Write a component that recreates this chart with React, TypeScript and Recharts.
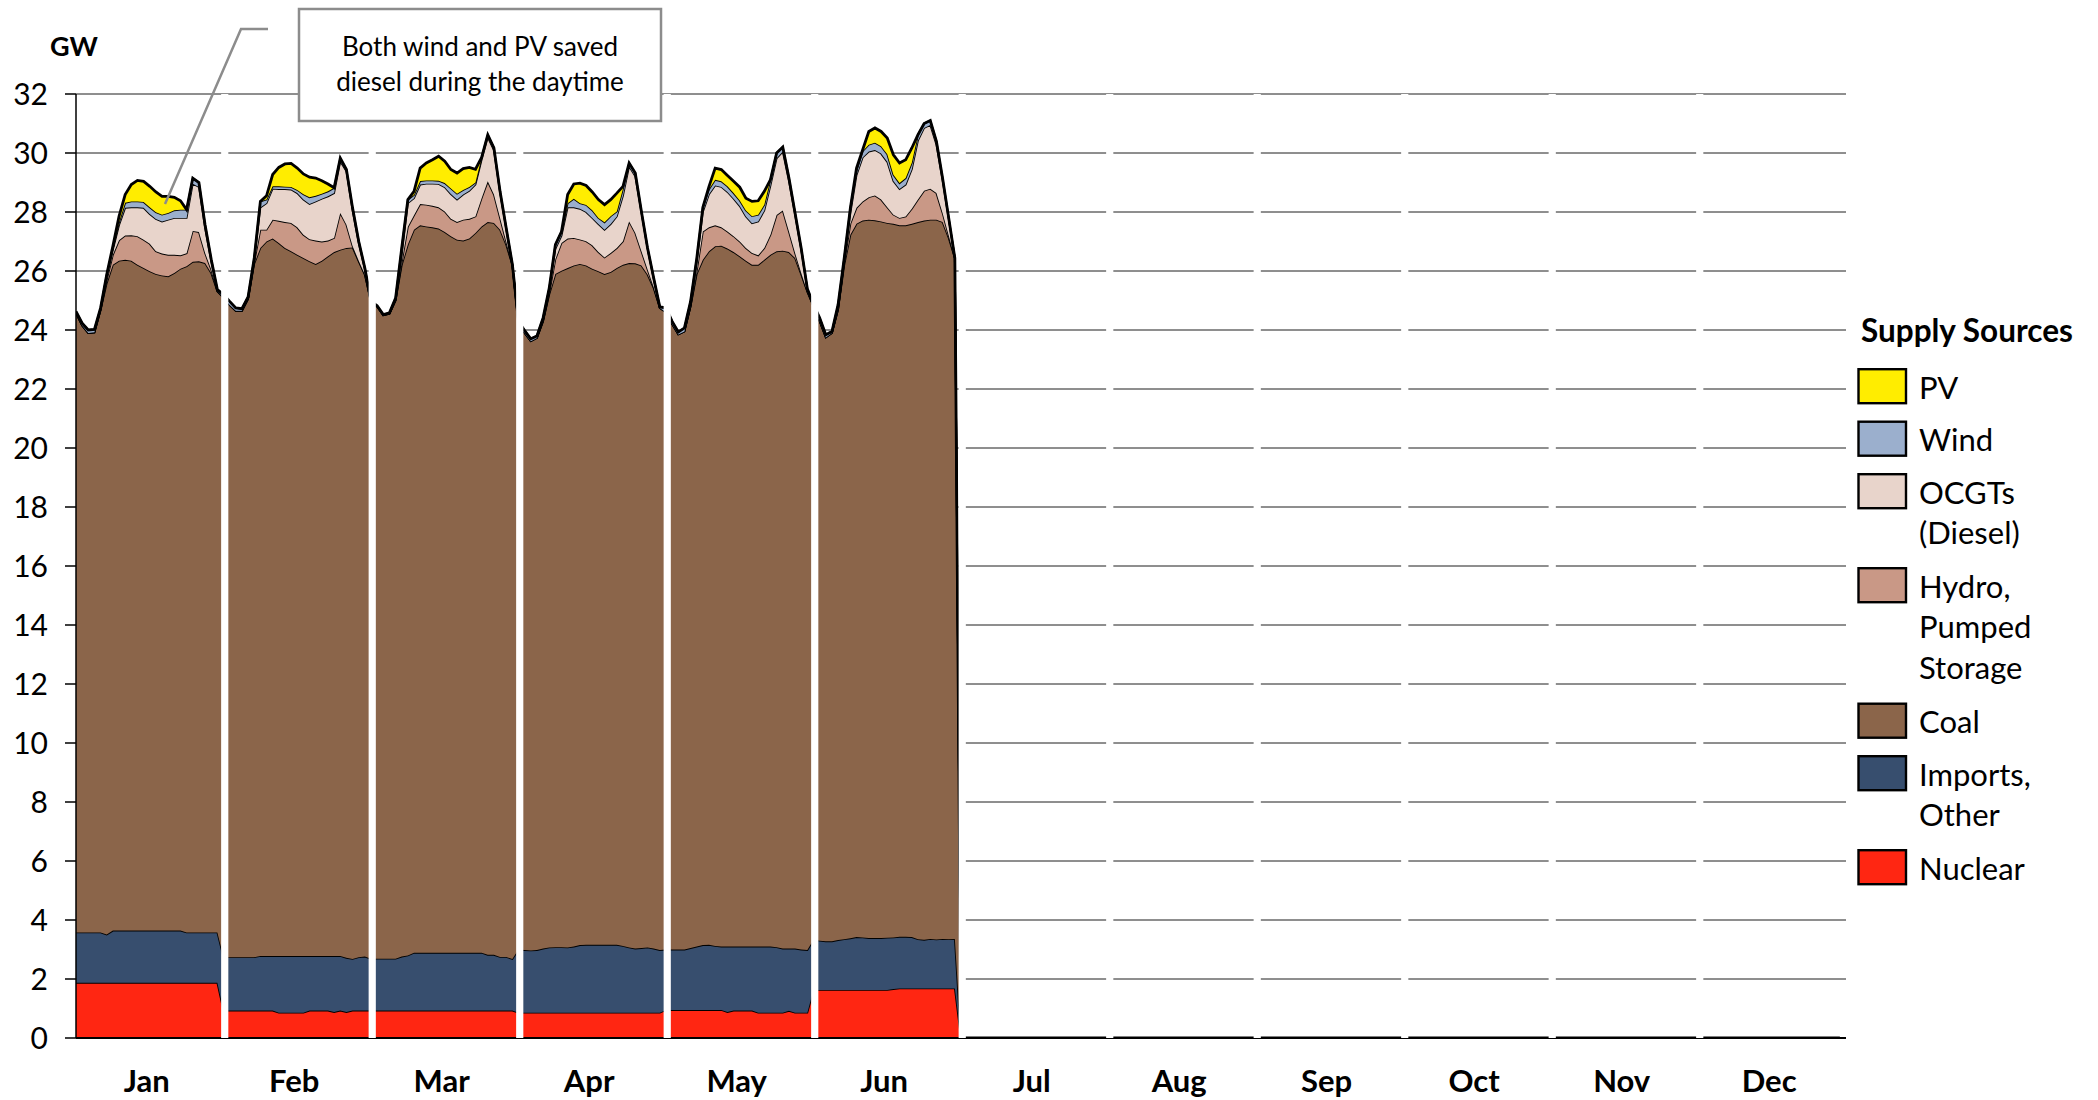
import React from 'react';
import { AreaChart, Area, XAxis, YAxis, CartesianGrid, ReferenceLine } from 'recharts';

const MONTHS = ['Jan', 'Feb', 'Mar', 'Apr', 'May', 'Jun', 'Jul', 'Aug', 'Sep', 'Oct', 'Nov', 'Dec'];
const Y_TICKS = [0, 2, 4, 6, 8, 10, 12, 14, 16, 18, 20, 22, 24, 26, 28, 30, 32];

// average day, GW for hours 0..23; one row per month, Jan..Jun (later months not in yet -> 0)
const NUCLEAR = [
  [1.87, 1.87, 1.87, 1.87, 1.87, 1.87, 1.87, 1.87, 1.87, 1.87, 1.87, 1.87, 1.87, 1.87, 1.87, 1.87, 1.87, 1.87, 1.87, 1.87, 1.87, 1.87, 1.87, 1.87],
  [0.93, 0.93, 0.93, 0.93, 0.93, 0.93, 0.93, 0.93, 0.93, 0.86, 0.86, 0.86, 0.86, 0.86, 0.93, 0.93, 0.93, 0.93, 0.88, 0.93, 0.88, 0.93, 0.93, 0.93],
  [0.93, 0.93, 0.93, 0.93, 0.93, 0.93, 0.93, 0.93, 0.93, 0.93, 0.93, 0.93, 0.93, 0.93, 0.93, 0.93, 0.93, 0.93, 0.93, 0.93, 0.93, 0.93, 0.93, 0.93],
  [0.86, 0.86, 0.86, 0.86, 0.86, 0.86, 0.86, 0.86, 0.86, 0.86, 0.86, 0.86, 0.86, 0.86, 0.86, 0.86, 0.86, 0.86, 0.86, 0.86, 0.86, 0.86, 0.86, 0.86],
  [0.95, 0.95, 0.95, 0.95, 0.95, 0.95, 0.95, 0.95, 0.95, 0.95, 0.88, 0.93, 0.93, 0.93, 0.93, 0.86, 0.86, 0.86, 0.86, 0.86, 0.92, 0.86, 0.86, 0.86],
  [1.63, 1.63, 1.63, 1.63, 1.63, 1.63, 1.63, 1.63, 1.63, 1.63, 1.63, 1.63, 1.63, 1.66, 1.68, 1.68, 1.68, 1.68, 1.68, 1.68, 1.68, 1.68, 1.68, 1.68],
];

const IMPORTS = [
  [1.71, 1.71, 1.71, 1.71, 1.71, 1.64, 1.77, 1.77, 1.77, 1.77, 1.77, 1.77, 1.77, 1.77, 1.77, 1.77, 1.77, 1.77, 1.71, 1.71, 1.71, 1.71, 1.71, 1.71],
  [1.81, 1.81, 1.81, 1.81, 1.81, 1.81, 1.85, 1.85, 1.85, 1.92, 1.92, 1.92, 1.92, 1.92, 1.85, 1.85, 1.85, 1.85, 1.9, 1.85, 1.84, 1.75, 1.81, 1.83],
  [1.76, 1.76, 1.76, 1.76, 1.76, 1.83, 1.87, 1.96, 1.96, 1.96, 1.96, 1.96, 1.96, 1.96, 1.96, 1.96, 1.96, 1.96, 1.96, 1.89, 1.89, 1.82, 1.82, 1.75],
  [2.14, 2.12, 2.11, 2.12, 2.17, 2.21, 2.22, 2.22, 2.21, 2.24, 2.29, 2.3, 2.3, 2.3, 2.3, 2.3, 2.3, 2.26, 2.21, 2.17, 2.19, 2.21, 2.17, 2.12],
  [2.05, 2.05, 2.05, 2.05, 2.1, 2.15, 2.2, 2.21, 2.17, 2.15, 2.22, 2.17, 2.17, 2.17, 2.17, 2.24, 2.24, 2.24, 2.22, 2.17, 2.11, 2.17, 2.14, 2.12],
  [1.7, 1.67, 1.65, 1.65, 1.69, 1.72, 1.75, 1.79, 1.78, 1.76, 1.76, 1.76, 1.77, 1.75, 1.75, 1.75, 1.74, 1.67, 1.65, 1.68, 1.66, 1.68, 1.67, 1.68],
];

const COAL = [
  [21.0, 20.57, 20.32, 20.34, 21.1, 22.08, 22.57, 22.71, 22.74, 22.71, 22.57, 22.46, 22.35, 22.26, 22.21, 22.18, 22.29, 22.44, 22.58, 22.73, 22.75, 22.69, 22.35, 21.73],
  [22.36, 22.11, 21.91, 21.91, 22.31, 23.51, 24.0, 24.22, 24.32, 24.17, 24.0, 23.89, 23.77, 23.66, 23.55, 23.46, 23.57, 23.72, 23.86, 23.94, 24.06, 24.12, 23.59, 23.12],
  [22.26, 22.11, 21.81, 21.86, 22.31, 23.44, 24.1, 24.51, 24.66, 24.62, 24.59, 24.55, 24.43, 24.29, 24.17, 24.14, 24.21, 24.4, 24.62, 24.84, 24.81, 24.65, 24.14, 23.52],
  [21.2, 20.92, 20.65, 20.75, 21.27, 22.13, 22.82, 22.93, 23.03, 23.09, 23.09, 23.03, 22.92, 22.83, 22.74, 22.81, 22.94, 23.09, 23.2, 23.23, 23.14, 22.81, 22.39, 21.77],
  [21.6, 21.2, 20.85, 20.95, 21.75, 22.8, 23.23, 23.51, 23.72, 23.76, 23.66, 23.54, 23.4, 23.25, 23.11, 23.11, 23.28, 23.45, 23.59, 23.66, 23.61, 23.41, 22.88, 22.32],
  [21.47, 21.0, 20.47, 20.62, 21.38, 22.85, 23.85, 24.18, 24.3, 24.35, 24.33, 24.29, 24.23, 24.19, 24.12, 24.12, 24.18, 24.31, 24.38, 24.38, 24.4, 24.3, 23.77, 23.08],
];

const HYDRO = [
  [0, 0, 0, 0, 0, 0.11, 0.34, 0.69, 0.82, 0.86, 0.97, 0.96, 0.93, 0.77, 0.74, 0.73, 0.62, 0.45, 0.44, 1.05, 0.99, 0.34, 0.12, 0],
  [0, 0, 0, 0, 0, 0.05, 0.62, 0.4, 0.64, 0.75, 0.88, 0.96, 0.93, 0.79, 0.75, 0.79, 0.65, 0.53, 0.48, 1.25, 0.79, 0.05, 0.02, 0],
  [0, 0, 0, 0, 0, 0.1, 0.6, 0.49, 0.72, 0.74, 0.73, 0.72, 0.7, 0.59, 0.6, 0.71, 0.67, 0.56, 0.96, 1.38, 0.96, 0.4, 0.11, 0],
  [0, 0, 0, 0, 0, 0.05, 0.5, 0.94, 1.0, 0.93, 0.83, 0.82, 0.79, 0.65, 0.56, 0.64, 0.68, 0.8, 1.41, 1.03, 0.48, 0.17, 0.03, 0],
  [0, 0, 0, 0, 0, 0.1, 0.96, 0.81, 0.71, 0.62, 0.58, 0.54, 0.5, 0.43, 0.4, 0.32, 0.4, 0.68, 1.23, 1.36, 0.7, 0.17, 0.05, 0],
  [0, 0, 0, 0, 0, 0.1, 0.37, 0.54, 0.65, 0.76, 0.84, 0.74, 0.53, 0.31, 0.25, 0.3, 0.51, 0.76, 1.01, 1.05, 0.9, 0.31, 0.08, 0],
];

const OCGT = [
  [0, 0, 0, 0, 0.02, 0.13, 0.17, 0.51, 0.94, 0.95, 0.98, 1.08, 1.01, 1.09, 1.09, 1.19, 1.25, 1.27, 1.2, 1.6, 1.53, 0.84, 0.28, 0.02],
  [0, 0, 0, 0, 0.02, 0.08, 0.75, 0.9, 1.05, 1.08, 1.12, 1.13, 1.16, 1.19, 1.19, 1.33, 1.45, 1.5, 1.52, 1.75, 1.81, 1.2, 0.6, 0.17],
  [0, 0, 0, 0, 0.02, 0.25, 0.8, 0.58, 0.66, 0.71, 0.75, 0.79, 0.82, 0.84, 0.76, 0.85, 0.95, 1.08, 1.3, 1.49, 1.51, 0.85, 0.42, 0],
  [0, 0, 0, 0, 0.02, 0.13, 0.35, 0.25, 1.06, 1.04, 1.04, 0.99, 0.93, 0.95, 0.94, 0.98, 1.07, 1.54, 1.87, 1.92, 1.31, 0.7, 0.28, 0],
  [0, 0, 0, 0, 0.02, 0.3, 0.66, 1.12, 1.35, 1.37, 1.34, 1.27, 1.2, 1.07, 1.01, 1.15, 1.27, 1.67, 1.92, 2.0, 1.71, 1.29, 0.79, 0.07],
  [0, 0, 0, 0, 0, 0.08, 0.35, 1.11, 1.49, 1.55, 1.54, 1.56, 1.54, 1.14, 0.98, 1.08, 1.34, 2.0, 2.13, 2.16, 1.64, 1.1, 0.56, 0],
];

const WIND = [
  [0.05, 0.08, 0.1, 0.1, 0.05, 0.05, 0.06, 0.1, 0.17, 0.2, 0.2, 0.2, 0.23, 0.23, 0.23, 0.23, 0.26, 0.28, 0.28, 0.19, 0.15, 0.12, 0.07, 0.04],
  [0.1, 0.12, 0.1, 0.07, 0.05, 0.06, 0.21, 0.12, 0.08, 0.09, 0.08, 0.09, 0.11, 0.18, 0.23, 0.19, 0.17, 0.17, 0.18, 0.11, 0.06, 0.09, 0.06, 0.05],
  [0.02, 0.02, 0.02, 0.03, 0.06, 0.23, 0.12, 0.11, 0.12, 0.11, 0.11, 0.11, 0.14, 0.19, 0.2, 0.16, 0.13, 0.07, 0.08, 0.09, 0.07, 0.05, 0.04, 0.03],
  [0.09, 0.08, 0.08, 0.07, 0.09, 0.04, 0.14, 0.14, 0.14, 0.29, 0.19, 0.24, 0.26, 0.21, 0.25, 0.27, 0.17, 0.24, 0.11, 0.11, 0.04, 0.03, 0.03, 0.03],
  [0.15, 0.09, 0.08, 0.12, 0.15, 0.12, 0.16, 0.17, 0.19, 0.19, 0.19, 0.19, 0.19, 0.2, 0.24, 0.23, 0.2, 0.2, 0.18, 0.15, 0.11, 0.07, 0.05, 0.03],
  [0.06, 0.11, 0.09, 0.05, 0.16, 0.06, 0.19, 0.15, 0.21, 0.23, 0.25, 0.25, 0.26, 0.21, 0.2, 0.22, 0.22, 0.2, 0.15, 0.15, 0.12, 0.08, 0.04, 0],
];

const PV = [
  [0, 0, 0, 0, 0, 0, 0.07, 0.2, 0.28, 0.57, 0.71, 0.7, 0.71, 0.69, 0.62, 0.56, 0.44, 0.3, 0, 0, 0, 0, 0, 0],
  [0, 0, 0, 0, 0, 0, 0, 0.13, 0.4, 0.64, 0.77, 0.8, 0.74, 0.69, 0.68, 0.6, 0.44, 0.25, 0, 0, 0, 0, 0, 0],
  [0, 0, 0, 0, 0, 0, 0, 0.12, 0.44, 0.59, 0.7, 0.83, 0.74, 0.64, 0.7, 0.72, 0.66, 0.45, 0, 0, 0, 0, 0, 0],
  [0, 0, 0, 0, 0, 0, 0, 0, 0.29, 0.5, 0.68, 0.66, 0.62, 0.62, 0.6, 0.56, 0.62, 0.08, 0, 0, 0, 0, 0, 0],
  [0, 0, 0, 0, 0, 0, 0, 0.1, 0.4, 0.4, 0.37, 0.4, 0.45, 0.42, 0.5, 0.47, 0.45, 0, 0, 0, 0, 0, 0, 0],
  [0, 0, 0, 0, 0, 0, 0, 0.09, 0.05, 0.45, 0.5, 0.5, 0.55, 0.68, 0.68, 0.62, 0.5, 0, 0, 0, 0, 0, 0, 0],
];

// bottom of the stack first
const SERIES = [
  { key: 'nuclear', label: ['Nuclear'], color: '#FF2612', values: NUCLEAR },
  { key: 'imports', label: ['Imports,', 'Other'], color: '#374E6E', values: IMPORTS },
  { key: 'coal', label: ['Coal'], color: '#8B654A', values: COAL },
  { key: 'hydro', label: ['Hydro,', 'Pumped', 'Storage'], color: '#C99886', values: HYDRO },
  { key: 'ocgt', label: ['OCGTs', '(Diesel)'], color: '#E8D4CB', values: OCGT },
  { key: 'wind', label: ['Wind'], color: '#9BAFCD', values: WIND },
  { key: 'pv', label: ['PV'], color: '#FFED00', values: PV },
];

const HOURS = 24;
const FONT = 'Lato, "Open Sans", sans-serif';

const data = MONTHS.flatMap((_, m) =>
  Array.from({ length: HOURS }, (_, h) => {
    const row: Record<string, number> = { x: m * HOURS + h };
    SERIES.forEach((s) => {
      row[s.key] = s.values[m] ? s.values[m][h] : 0;
    });
    return row;
  })
);

const monthTicks = MONTHS.map((_, m) => m * HOURS + 11.5);
const monthGaps = MONTHS.slice(1).map((_, i) => (i + 1) * HOURS + 0.2);

function MonthTick(props: any) {
  const { x, y, payload } = props;
  const m = Math.floor(payload.value / HOURS);
  return (
    <text x={x} y={y + 54} textAnchor="middle" fontFamily={FONT} fontWeight={700} fontSize={31} fill="#000">
      {MONTHS[m]}
    </text>
  );
}

function Legend() {
  let top = 368;
  const items = [...SERIES].reverse().map((s) => {
    const y = top;
    top += 52.5 + (s.label.length - 1) * 41.5;
    return (
      <g key={s.key}>
        <rect x={1858.5} y={y + 1.2} width={47.5} height={34} fill={s.color} stroke="#000" strokeWidth={2.4} />
        {s.label.map((line, i) => (
          <text key={i} x={1919} y={y + 30.5 + i * 40.5} fontFamily={FONT} fontSize={31} fill="#000">
            {line}
          </text>
        ))}
      </g>
    );
  });
  return (
    <g>
      <text x={1861} y={341.5} fontFamily={FONT} fontWeight={700} fontSize={31.5} fill="#000">
        Supply Sources
      </text>
      {items}
    </g>
  );
}

export default function App() {
  return (
    <div style={{ position: 'absolute', left: 0, top: 0, width: 2098, height: 1100, background: '#fff' }}>
      <AreaChart width={2098} height={1100} data={data} margin={{ top: 94, right: 252, bottom: 32, left: 0 }}>
        <CartesianGrid vertical={false} stroke="#1e1e1e" strokeWidth={1} />
        <XAxis
          dataKey="x"
          type="number"
          domain={[0, MONTHS.length * HOURS]}
          ticks={monthTicks}
          interval={0}
          tick={<MonthTick />}
          axisLine={{ stroke: '#000', strokeWidth: 2.2 }}
          tickLine={false}
          tickSize={0}
          tickMargin={0}
          height={30}
          allowDataOverflow
        />
        <YAxis
          type="number"
          domain={[0, 32]}
          ticks={Y_TICKS}
          interval={0}
          width={76}
          tickSize={11}
          tickMargin={17}
          axisLine={{ stroke: '#000', strokeWidth: 1.5 }}
          tickLine={{ stroke: '#000', strokeWidth: 1.5 }}
          tick={{ fill: '#000', fontSize: 30, fontFamily: FONT }}
          allowDataOverflow
        />
        {SERIES.map((s) => (
          <Area
            key={s.key}
            type="linear"
            dataKey={s.key}
            name={s.label.join(' ')}
            stackId="supply"
            fill={s.color}
            fillOpacity={1}
            stroke="#000"
            strokeWidth={s.key === 'pv' ? 2.8 : 1.8}
            dot={false}
            activeDot={false}
            isAnimationActive={false}
          />
        ))}
        {monthGaps.map((g) => (
          <ReferenceLine key={g} x={g} stroke="#fff" strokeWidth={7.2} zIndex={1000} />
        ))}
      </AreaChart>
      <svg
        width={2098}
        height={1100}
        style={{ position: 'absolute', left: 0, top: 0, pointerEvents: 'none' }}
      >
        <text x={50} y={56} fontFamily={FONT} fontWeight={700} fontSize={27} fill="#000">
          GW
        </text>
        <polyline points="268,29 241,29 165,204" fill="none" stroke="#8c8c8c" strokeWidth={2.5} />
        <rect x={299} y={9} width={362} height={112} fill="#fff" stroke="#8c8c8c" strokeWidth={2.5} />
        <text x={480} y={56} textAnchor="middle" fontFamily={FONT} fontSize={26} fill="#000">
          Both wind and PV saved
        </text>
        <text x={480} y={91} textAnchor="middle" fontFamily={FONT} fontSize={26} fill="#000">
          diesel during the daytime
        </text>
        <Legend />
      </svg>
    </div>
  );
}
